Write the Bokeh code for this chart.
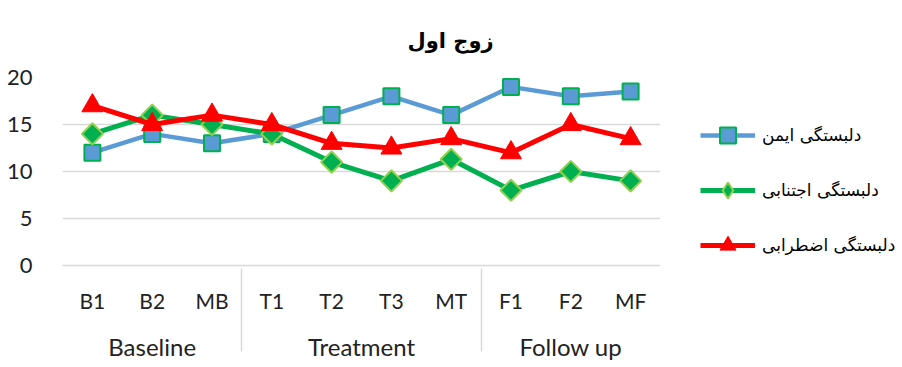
from bokeh.plotting import figure
from bokeh.layouts import row
from bokeh.models import (FactorRange, Range1d, FixedTicker, Legend, LegendItem,
                          ColumnDataSource)
from bokeh.embed import file_html
from bokeh.resources import INLINE

# ---- data ----
groups = ["Baseline"] * 3 + ["Treatment"] * 4 + ["Follow up"] * 3
sessions = ["B1", "B2", "MB", "T1", "T2", "T3", "MT", "F1", "F2", "MF"]
secure = [12, 14, 13, 14, 16, 18, 16, 19, 18, 18.5]
avoidant = [14, 16, 15, 14, 11, 9, 11.3, 8, 10, 9]
anxious = [17, 15, 16, 15, 13, 12.5, 13.5, 12, 15, 13.5]
series_names = ["دلبستگی ایمن", "دلبستگی اجتنابی", "دلبستگی اضطرابی"]
y_ticks = [0, 5, 10, 15, 20]
title_text = "زوج اول"

factors = list(zip(groups, sessions))
src = ColumnDataSource(dict(x=factors, secure=secure, avoidant=avoidant, anxious=anxious))

LATIN = "Lato"
PERSIAN = "DejaVu Sans"
TXT = "#222222"
GRID = "#d9d9d9"
BLUE, GREEN, LIGHTGREEN, RED = "#5B9BD5", "#00B050", "#92D050", "#FF0000"

H = 367
MAIN_W, LEG_W = 660, 242
LEFT, TOP, BOTTOM = 62, 77, 102

p = figure(width=MAIN_W, height=H,
           x_range=FactorRange(*factors, range_padding=0, factor_padding=0,
                               group_padding=0, subgroup_padding=0),
           y_range=Range1d(0, 20),
           output_backend="svg", toolbar_location=None,
           min_border_left=LEFT, min_border_right=0,
           min_border_top=TOP, min_border_bottom=BOTTOM)
p.outline_line_color = None
p.background_fill_color = "white"
p.border_fill_color = "white"

# title
p.title.text = title_text
p.title.align = "left"
p.title.offset = 345
p.title.standoff = 50
p.title.text_font = PERSIAN
p.title.text_font_size = "21px"
p.title.text_font_style = "bold"
p.title.text_color = "black"

# grids
p.xgrid.grid_line_color = None
p.ygrid.ticker = FixedTicker(ticks=y_ticks)
p.ygrid.grid_line_color = GRID
p.ygrid.grid_line_width = 1.5

# y axis
p.yaxis.ticker = FixedTicker(ticks=y_ticks)
p.yaxis.axis_line_color = None
p.yaxis.major_tick_line_color = None
p.yaxis.minor_tick_line_color = None
p.yaxis.major_label_text_font = LATIN
p.yaxis.major_label_text_font_size = "22px"
p.yaxis.major_label_text_color = TXT
p.yaxis.major_label_standoff = 24

# x axis
xa = p.xaxis[0]
xa.axis_line_color = GRID
xa.axis_line_width = 1.5
xa.major_tick_line_color = None
xa.minor_tick_line_color = None
xa.major_label_text_font = LATIN
xa.major_label_text_font_size = "21px"
xa.major_label_text_color = TXT
xa.major_label_standoff = 16
xa.group_text_font = LATIN
xa.group_text_font_size = "24px"
xa.group_text_font_style = "normal"
xa.group_text_color = TXT
xa.separator_line_color = GRID
xa.separator_line_width = 1.5

# series
p.line("x", "secure", source=src, line_color=BLUE, line_width=4.5)
p.scatter("x", "secure", source=src, marker="square", size=16,
          fill_color=BLUE, line_color=GREEN, line_width=2)
p.line("x", "avoidant", source=src, line_color=GREEN, line_width=5)
p.scatter("x", "avoidant", source=src, marker="square", size=15, angle=0.785398,
          fill_color=GREEN, line_color=LIGHTGREEN, line_width=2)
p.line("x", "anxious", source=src, line_color=RED, line_width=5)
p.scatter("x", "anxious", source=src, marker="triangle", size=21,
          fill_color=RED, line_color=RED, line_width=1)

# ---- legend panel (separate figure so the legend sits to the right) ----
q = figure(width=LEG_W, height=H, x_range=FactorRange(*factors),
           y_range=Range1d(100, 101), output_backend="svg",
           toolbar_location=None, x_axis_location=None, y_axis_location=None,
           min_border=0)
q.outline_line_color = None
q.grid.grid_line_color = None
q.background_fill_color = "white"
q.border_fill_color = "white"

k1 = q.line("x", "secure", source=src, line_color=BLUE, line_width=4.5)
s1 = q.scatter("x", "secure", source=src, marker="square", size=16,
               fill_color=BLUE, line_color=GREEN, line_width=2)
k2 = q.line("x", "avoidant", source=src, line_color=GREEN, line_width=5)
s2 = q.scatter("x", "avoidant", source=src, marker="diamond", size=20,
               fill_color=GREEN, line_color=LIGHTGREEN, line_width=2)
k3 = q.line("x", "anxious", source=src, line_color=RED, line_width=5)
s3 = q.scatter("x", "anxious", source=src, marker="triangle", size=21,
               fill_color=RED, line_color=RED, line_width=1)

legend = Legend(items=[LegendItem(label=series_names[0], renderers=[k1, s1]),
                       LegendItem(label=series_names[1], renderers=[k2, s2]),
                       LegendItem(label=series_names[2], renderers=[k3, s3])],
                location=(40, 0), margin=0, padding=0,
                glyph_width=55, glyph_height=40, label_height=40,
                spacing=15, label_standoff=7,
                label_text_font=PERSIAN, label_text_font_size="17px",
                label_text_color="black",
                border_line_color=None, background_fill_alpha=0)
q.add_layout(legend, "center")

layout = row(p, q)
open("out.html", "w").write(file_html(layout, INLINE))
